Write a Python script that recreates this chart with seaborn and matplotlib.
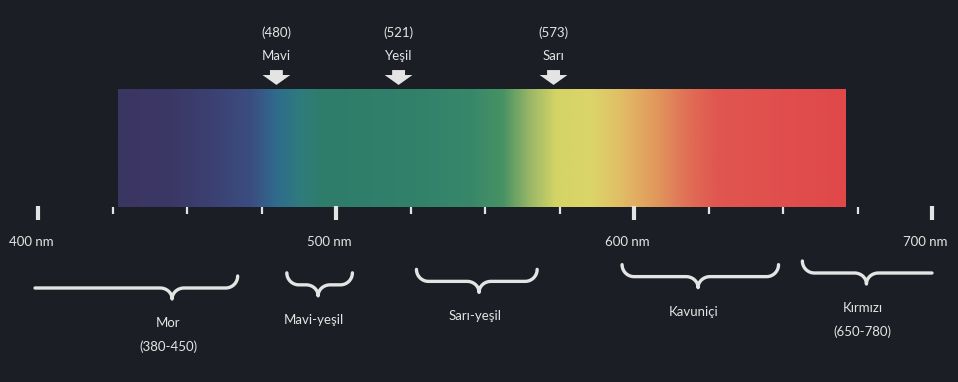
import numpy as np
import pandas as pd
import matplotlib
matplotlib.use("Agg")
import matplotlib.pyplot as plt
from matplotlib.colors import LinearSegmentedColormap, Normalize
from matplotlib.path import Path
import seaborn as sns

# --- data -----------------------------------------------------------------
# colour stops of the visible spectrum (wavelength in nm, colour)
spectrum_nm = [427, 445, 460, 471, 480, 488, 496, 520, 545, 556, 565, 574,
               586, 596, 608, 618, 628, 671]
spectrum_colors = ["#3b3562", "#3c3866", "#3b4274", "#3b4d80", "#2f6c8e",
                   "#2e7c7c", "#2e7d6a", "#30806b", "#37876a", "#479264",
                   "#98b666", "#d4d466", "#dcd46a", "#e1bd66", "#e1975c",
                   "#e07056", "#e05650", "#e0484a"]
spectrum_start, spectrum_end = 427, 671

# scale
scale_major = [400, 500, 600, 700]
scale_labels = ["400 nm", "500 nm", "600 nm", "700 nm"]
scale_minor_step = 25

# marked wavelengths
marker_nm = [480, 521, 573]
marker_names = ["Mavi", "Yeşil", "Sarı"]

# colour bands under the scale
band_names = ["Mor", "Mavi-yeşil", "Sarı-yeşil", "Kavuniçi", "Kırmızı"]
band_ranges = ["(380-450)", "", "", "", "(650-780)"]
brace_start = [399, 483.5, 527, 596, 656.5]
brace_end = [467, 505.5, 567.5, 648.5, 700]
brace_tip = [445, 494, 548, 621.5, 678]

# --- style ----------------------------------------------------------------
BG = "#1b1e24"
FG = "#e4e4e4"
sns.set_theme(style="dark", rc={"axes.facecolor": BG, "figure.facecolor": BG})
plt.rcParams["font.family"] = ["Lato", "DejaVu Sans"]

W, H = 958, 382
PX_PER_NM = 2.98
X400 = 38  # pixel column of the 400 nm tick

fig = plt.figure(figsize=(W / 100, H / 100), dpi=100)
ax = fig.add_axes([0, 0, 1, 1])
ax.set_facecolor(BG)


def px(n):
    """pixel distance -> wavelength distance"""
    return n / PX_PER_NM


# spectrum band
cmap = LinearSegmentedColormap.from_list(
    "spectrum",
    [((w - spectrum_start) / (spectrum_end - spectrum_start), c)
     for w, c in zip(spectrum_nm, spectrum_colors)])
grad = np.linspace(spectrum_start, spectrum_end, 800)[None, :]
ax.imshow(grad, cmap=cmap, norm=Normalize(spectrum_start, spectrum_end),
          extent=[spectrum_start, spectrum_end, 207, 89], aspect="auto",
          interpolation="bilinear")

# scale ticks
minor = [t for t in range(scale_major[0], scale_major[-1] + 1, scale_minor_step)
         if t not in scale_major]
ax.vlines(minor, 207, 214, color=FG, lw=1.6)
ax.vlines(scale_major, 206, 220, color=FG, lw=3.0)
for t, lab in zip(scale_major, scale_labels):
    ax.text(t - px(7), 242, lab, ha="center", va="center", color=FG,
            fontsize=9.5)

# arrows for the marked wavelengths
arrow = Path([(-6.5, 7), (6.5, 7), (6.5, 2), (14, 2), (0, -8), (-14, 2),
              (-6.5, 2), (-6.5, 7)], closed=True)
arrows = pd.DataFrame({"nm": marker_nm, "y": [77] * len(marker_nm)})
sns.scatterplot(data=arrows, x="nm", y="y", marker=arrow, s=400, color=FG,
                edgecolor="none", linewidth=0, legend=False, ax=ax)
for w, name in zip(marker_nm, marker_names):
    ax.text(w, 33, f"({w})", ha="center", va="center", color=FG, fontsize=9.5)
    ax.text(w, 56, name, ha="center", va="center", color=FG, fontsize=9.5)


# braces
def brace(x0, x1, xt, yb, curl_left, curl_right, rx=px(12), hc=12, ht=11):
    t = np.linspace(0, np.pi / 2, 20)
    xs, ys = [], []
    if curl_left:
        xs += list(x0 + rx * (1 - np.cos(t)))
        ys += list(yb - hc * (1 - np.sin(t)))
    else:
        xs += [x0]
        ys += [yb]
    xs += list(xt - rx + rx * np.sin(t))
    ys += list(yb + ht * (1 - np.cos(t)))
    xs += list(xt + rx * (1 - np.cos(t)))
    ys += list(yb + ht * (1 - np.sin(t)))
    if curl_right:
        xs += list(x1 - rx + rx * np.sin(t))
        ys += list(yb - hc * (1 - np.cos(t)))
    else:
        xs += [x1]
        ys += [yb]
    return np.array(xs), np.array(ys)


for name, rng, x0, x1, xt in zip(band_names, band_ranges, brace_start,
                                 brace_end, brace_tip):
    tip_px = X400 + (xt - 400) * PX_PER_NM
    yb = 288 - 0.0216 * (tip_px - 172)
    bx, by = brace(x0, x1, xt, yb,
                   curl_left=x0 > scale_major[0] + 1,
                   curl_right=x1 < scale_major[-1] - 1)
    sns.lineplot(x=bx, y=by, sort=False, estimator=None, color=FG, lw=2.4,
                 ax=ax, legend=False)
    ax.text(xt - px(4), yb + 35, name, ha="center", va="center", color=FG,
            fontsize=9.5)
    if rng:
        ax.text(xt - px(4), yb + 59, rng, ha="center", va="center", color=FG,
                fontsize=9.5)

ax.set_xlim(400 - px(X400), 400 + px(W - X400))
ax.set_ylim(H, 0)
ax.set_axis_off()

fig.savefig("out.png", dpi=100, facecolor=BG)
